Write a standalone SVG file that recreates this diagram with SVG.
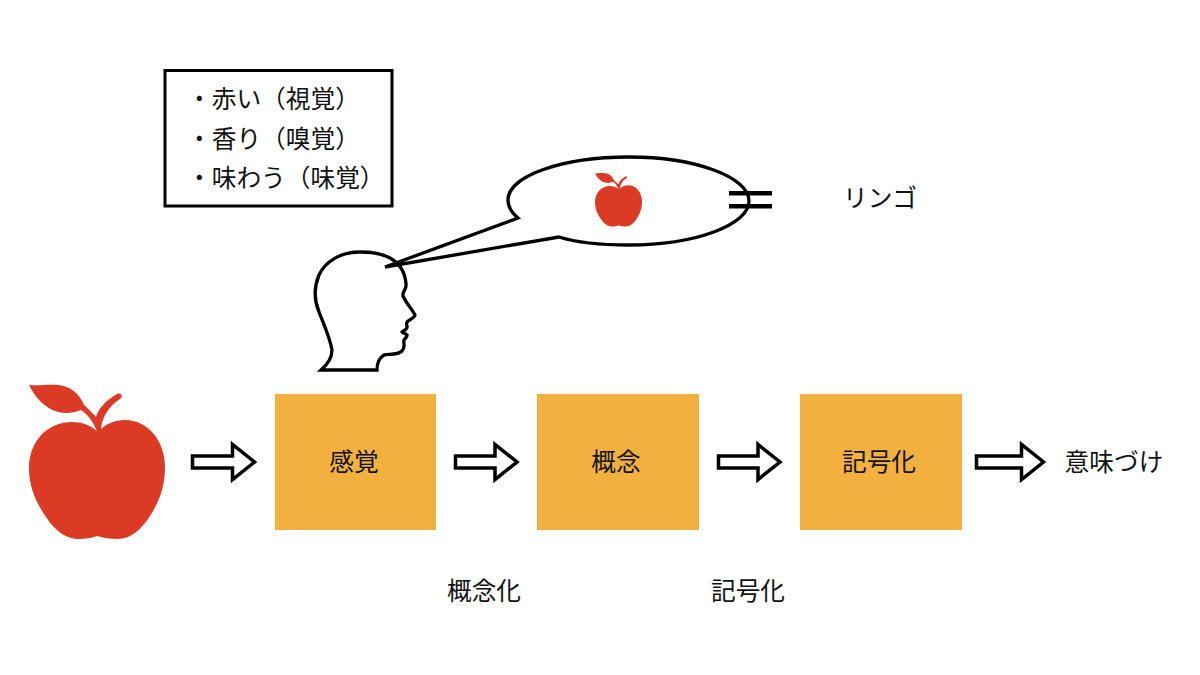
<svg xmlns="http://www.w3.org/2000/svg" width="1200" height="675" viewBox="0 0 1200 675">
<style>
text{font-family:"Noto Sans CJK JP","Noto Sans",sans-serif;font-size:24.7px;fill:#111}
.c{text-anchor:middle}
.box{fill:#F2B13E}
.arrow{fill:#fff;stroke:#000;stroke-width:3.500;stroke-linejoin:miter}
.line{fill:none;stroke:#000;stroke-width:3.300;stroke-linejoin:miter}
.apple{fill:#DB3A25}
</style>
<defs>
<g id="appleShape">
<path class="apple" d="M97 431C90 425 82 422 72 422C47 422 29 442 29 468C29 488 37 504 46 517C55 531 66 539 79 539C86 539 92 538 97 536C104 538 110 539 118 539C130 539 141 530 150 516C159 502 165 487 165 467C165 441 148 420 125 420C115 420 106 424 101 429C102 417 109 406 120 399C123 397 122 393 118 393.500C105 401 99 408 96 417C92 413 88 408 84 405C80 394 70 386 58 385C48 384 40 386 29 385C35 397 44 408 58 412C66 414 74 413 81 410C87 414 91 419 94 425Z"/>
</g>
</defs>
<rect width="1200" height="675" fill="#fff"/>
<g id="connectors">
<path class="arrow" d="M192.500 456H232.500V444.500L254.500 462L232.500 479.500V468H192.500Z"/>
<path class="arrow" d="M455.500 456H495V444.500L517 462L495 479.500V468H455.500Z"/>
<path class="arrow" d="M718.500 456H758V444.500L780 462L758 479.500V468H718.500Z"/>
<path class="arrow" d="M976.500 456H1021.500V444.500L1043.500 462L1021.500 479.500V468H976.500Z"/>
</g>
<g id="apple-large"><use href="#appleShape"/></g>
<g id="attributes">
<rect x="165" y="70.500" width="227" height="135.500" fill="#fff" stroke="#000" stroke-width="3"/>
<text x="187" y="108">・赤い（視覚）</text>
<text x="187" y="148">・香り（嗅覚）</text>
<text x="187" y="187">・味わう（味覚）</text>
</g>
<g id="head">
<path class="line" d="M321 370H377C377 363 379 358 384 355C390 354 398 355 402 351C406 347 403 343 404 340C406 338 407 336 407 335C405 333 402 333 402 332C405 330 408 329 407 326C406 324 407 322 408 321C411 319 415 317 415 315C412 309 406 303 403 296C402 292 407 289 406 284C405 270 397 262 390 258C381 253 371 252 360 252C340 252 325 262 319 275C314 287 314 300 319 312C324 325 330 338 332 350C332 358 328 364 321 370Z"/>
</g>
<g id="thought">
<path class="line" d="M385 267L518 218C512 213 508 207 508 200C508 176 562 157 629 157C695 157 749 177 749 201C749 225 695 245 629 245C600 245 578 243 559 237L385 267Z"/>
<g transform="translate(585,40) scale(.346)"><use href="#appleShape"/></g>
</g>
<g id="equals">
<rect x="729" y="191" width="43" height="4.500"/>
<rect x="729" y="204" width="43" height="4.500"/>
</g>
<g id="ringo"><text x="880" y="207" class="c">リンゴ</text></g>
<g id="kankaku"><rect class="box" x="275" y="394" width="161" height="136"/><text x="354" y="471" class="c">感覚</text></g>
<g id="gainen"><rect class="box" x="537" y="394" width="162" height="136"/><text x="616" y="471" class="c">概念</text></g>
<g id="kigouka"><rect class="box" x="800" y="394" width="162" height="136"/><text x="879" y="471" class="c">記号化</text></g>
<g id="imizuke"><text x="1114" y="471" class="c">意味づけ</text></g>
<g id="label-gainenka"><text x="484" y="600" class="c">概念化</text></g>
<g id="label-kigouka"><text x="748" y="600" class="c">記号化</text></g>
</svg>
